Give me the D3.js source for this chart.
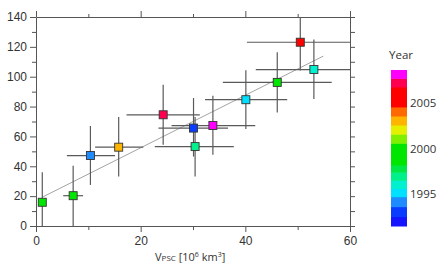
<!DOCTYPE html>
<html>
<head>
<meta charset="utf-8">
<script src="https://cdn.jsdelivr.net/npm/d3@7"></script>
<style>
  body { margin: 0; background: #fff; }
  svg { font-family: "Open Sans", sans-serif; }
</style>
</head>
<body>
<div id="chart"></div>
<script>
// PSC volume vs. value, one point per winter, coloured by year
const vpsc  = [1.2, 7.1, 10.4, 15.8, 24.3, 30.1, 33.8, 30.4, 40.1, 46.1, 50.5, 53.1];
const value = [15.9, 20.3, 47.2, 52.8, 74.5, 65.6, 67.3, 53.2, 84.6, 96.2, 123.1, 104.8];
const years = [1999, 2000, 1994, 2003, 2007, 1993, 2008, 1997, 1995, 1999, 2005, 1996];
const xLo = [1.2, 5.2, 5.9, 11.3, 17.3, 23.4, 25.9, 22.7, 32.3, 35.7, 40.3, 42.0];
const xHi = [1.2, 9.0, 15.1, 20.5, 31.3, 36.7, 41.9, 37.8, 48.0, 56.5, 60.0, 60.0];
const yLo = [0, 0, 27.5, 33.1, 54.4, 46.5, 47.7, 33.1, 65.0, 76.1, 104.1, 85.1];
const yHi = [36.0, 40.3, 67.0, 73.0, 94.7, 85.7, 87.3, 73.0, 104.3, 116.4, 140, 124.9];

const fitLine = [[1.2, 19.3], [54.9, 113.8]];

const xTicks = [0, 10, 20, 30, 40, 50, 60];
const yTicks = [0, 10, 20, 30, 40, 50, 60, 70, 80, 90, 100, 110, 120, 130, 140];

// colour bar: year edges (bottom to top) and colours of each band
const barEdges = [1991.47, 1992.5, 1993.6, 1994.7, 1995.6, 1996.5, 1997.4, 1998.2,
                  2000.6, 2001.6, 2002.6, 2003.6, 2004.6, 2006.8, 2007.75, 2008.67];
const barColors = ["#1414ff", "#0a3cff", "#1e8cff", "#00e0ff", "#00f0d0", "#00f08c",
                   "#00e848", "#00e600", "#80f000", "#e4f000", "#ffb400", "#ff6a00",
                   "#ff0000", "#ff0050", "#ff00ff"];
const barLabels = [1995, 2000, 2005];

const W = 440, H = 267;
const svg = d3.select("#chart").append("svg").attr("width", W).attr("height", H);

const x = d3.scaleLinear().domain([0, 60]).range([36, 350]);
const y = d3.scaleLinear().domain([0, 140]).range([226, 17]);
const color = d3.scaleThreshold().domain(barEdges.slice(1, -1)).range(barColors);

const axisCol = "#555", textCol = "#333";

function styleAxis(g, major, long, short) {
  g.select(".domain").attr("stroke", axisCol).attr("stroke-width", 1);
  g.selectAll(".tick line").attr("stroke", axisCol).attr("stroke-width", 1);
  g.selectAll(".tick text").attr("fill", textCol).attr("font-size", 12);
  g.selectAll(".tick").each(function(d) {
    const isMajor = d % major === 0;
    const ln = d3.select(this).select("line");
    ["x2", "y2"].forEach(a => {
      const v = ln.attr(a);
      if (v != null && +v !== 0) ln.attr(a, Math.sign(+v) * (isMajor ? long : short));
    });
  });
}

// axes
const gB = svg.append("g").attr("transform", `translate(0,${y(0)})`)
  .call(d3.axisBottom(x).tickValues(xTicks).tickSizeOuter(0).tickPadding(4)
    .tickFormat(d => d % 20 === 0 ? d : ""));
styleAxis(gB, 20, 6, 4);

const gT = svg.append("g").attr("transform", `translate(0,${y(140)})`)
  .call(d3.axisTop(x).tickValues(xTicks).tickSizeOuter(0).tickFormat(""));
styleAxis(gT, 20, 6, 3);

const gL = svg.append("g").attr("transform", `translate(${x(0)},0)`)
  .call(d3.axisLeft(y).tickValues(yTicks).tickSizeOuter(0).tickPadding(3)
    .tickFormat(d => d % 20 === 0 ? d : ""));
styleAxis(gL, 20, 6, 4);

const gR = svg.append("g").attr("transform", `translate(${x(60)},0)`)
  .call(d3.axisRight(y).tickValues(yTicks).tickSizeOuter(0).tickFormat(""));
styleAxis(gR, 20, 5, 5);

// regression line
svg.append("line")
  .attr("x1", x(fitLine[0][0])).attr("y1", y(fitLine[0][1]))
  .attr("x2", x(fitLine[1][0])).attr("y2", y(fitLine[1][1]))
  .attr("stroke", "#999").attr("stroke-width", 0.9);

const pts = vpsc.map((v, i) => ({
  v, val: value[i], year: years[i], xLo: xLo[i], xHi: xHi[i], yLo: yLo[i], yHi: yHi[i]
}));

// error bars
const eb = svg.append("g").attr("stroke", "#5a5a5a").attr("stroke-width", 1.2);
eb.selectAll("line.h").data(pts.filter(d => d.xHi > d.xLo)).join("line")
  .attr("class", "h")
  .attr("x1", d => x(d.xLo)).attr("x2", d => x(d.xHi))
  .attr("y1", d => y(d.val)).attr("y2", d => y(d.val));
eb.selectAll("line.v").data(pts).join("line")
  .attr("class", "v")
  .attr("x1", d => x(d.v)).attr("x2", d => x(d.v))
  .attr("y1", d => y(d.yLo)).attr("y2", d => y(d.yHi));

// markers
const s = 8;
svg.append("g").selectAll("rect").data(pts).join("rect")
  .attr("x", d => x(d.v) - s / 2).attr("y", d => y(d.val) - s / 2)
  .attr("width", s).attr("height", s)
  .attr("fill", d => color(d.year))
  .attr("stroke", "#333").attr("stroke-width", 0.9);

// x axis title
const xt = svg.append("text").attr("x", 155).attr("y", 261)
  .attr("fill", textCol).attr("font-size", 11);
xt.append("tspan").text("V");
xt.append("tspan").attr("font-size", 8).text("PSC");
xt.append("tspan").text(" [10");
xt.append("tspan").attr("font-size", 7).attr("dy", -4).text("6");
xt.append("tspan").attr("dy", 4).text(" km");
xt.append("tspan").attr("font-size", 7).attr("dy", -4).text("3");
xt.append("tspan").attr("dy", 4).text("]");

// colour bar
const yb = d3.scaleLinear().domain([barEdges[0], barEdges[barEdges.length - 1]]).range([226, 70]);
const bx = 391, bw = 16;
svg.append("g").selectAll("rect").data(barColors).join("rect")
  .attr("x", bx).attr("width", bw)
  .attr("y", (c, i) => yb(barEdges[i + 1]))
  .attr("height", (c, i) => yb(barEdges[i]) - yb(barEdges[i + 1]) + 0.5)
  .attr("fill", c => c);

svg.append("g").selectAll("text").data(barLabels).join("text")
  .attr("x", bx + bw + 3).attr("y", d => yb(d) + 4)
  .attr("fill", textCol).attr("font-size", 11.5)
  .text(d => d);

svg.append("text").attr("x", bx + bw / 2 + 2).attr("y", 59)
  .attr("text-anchor", "middle").attr("fill", textCol).attr("font-size", 11.5)
  .text("Year");
</script>
</body>
</html>
